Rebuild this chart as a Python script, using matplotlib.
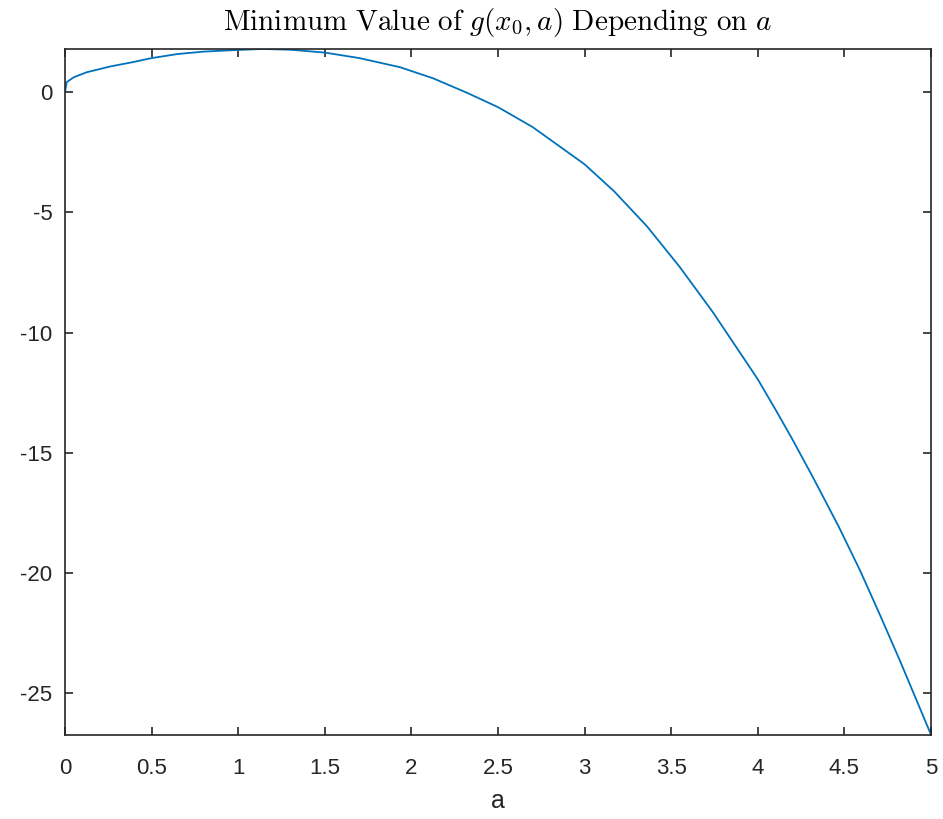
import numpy as np
import matplotlib
matplotlib.use("Agg")
import matplotlib.pyplot as plt

# values
a_vals = [0, 0.01, 0.05, 0.125, 0.26, 0.39, 0.5, 0.65, 0.8, 1.0, 1.14, 1.3,
          1.5, 1.7, 1.935, 2.125, 2.32, 2.5, 2.7, 3.0, 3.17, 3.36, 3.55, 3.74,
          3.94, 4.0, 4.1, 4.2, 4.32, 4.465, 4.59, 4.705, 4.82, 5.0]
g_min = [0, 0.42, 0.62, 0.83, 1.07, 1.25, 1.42, 1.59, 1.69, 1.76, 1.80, 1.77,
         1.65, 1.42, 1.04, 0.58, -0.02, -0.62, -1.45, -3.0, -4.12, -5.58,
         -7.28, -9.15, -11.3, -11.95, -13.18, -14.45, -16.05, -18.05, -19.9,
         -21.75, -23.65, -26.74]

x_ticks = [0, 0.5, 1, 1.5, 2, 2.5, 3, 3.5, 4, 4.5, 5]
x_labels = ['0', '0.5', '1', '1.5', '2', '2.5', '3', '3.5', '4', '4.5', '5']
y_ticks = [-25, -20, -15, -10, -5, 0]
y_labels = ['-25', '-20', '-15', '-10', '-5', '0']

plt.rcParams['font.family'] = 'Liberation Sans'
plt.rcParams['mathtext.fontset'] = 'cm'

fig = plt.figure(figsize=(9.43, 8.19), dpi=100)
ax = fig.add_axes([0.0689, 0.1029, 0.9184, 0.8373])

ax.plot(a_vals, g_min, color='#0072BD', lw=1.3)

ax.set_xlim(0, 5)
ax.set_ylim(-26.74, 1.80)
ax.set_xticks(x_ticks)
ax.set_xticklabels(x_labels)
ax.set_yticks(y_ticks)
ax.set_yticklabels(y_labels)

axcol = '#262626'
for s in ax.spines.values():
    s.set_color(axcol)
    s.set_linewidth(1.2)
ax.tick_params(direction='in', length=6, width=1.2, color=axcol,
               labelcolor=axcol, labelsize=16, top=True, right=True)
ax.tick_params(axis='x', pad=17)
ax.tick_params(axis='y', pad=9)

ax.set_xlabel('a', fontsize=18, color=axcol, labelpad=7)
ax.set_title(r'$\mathrm{Minimum\ Value\ of\ }g(x_0,a)\mathrm{\ Depending\ on\ }a$',
             fontsize=21, color='black', pad=14)

fig.savefig('out.png', dpi=100)
